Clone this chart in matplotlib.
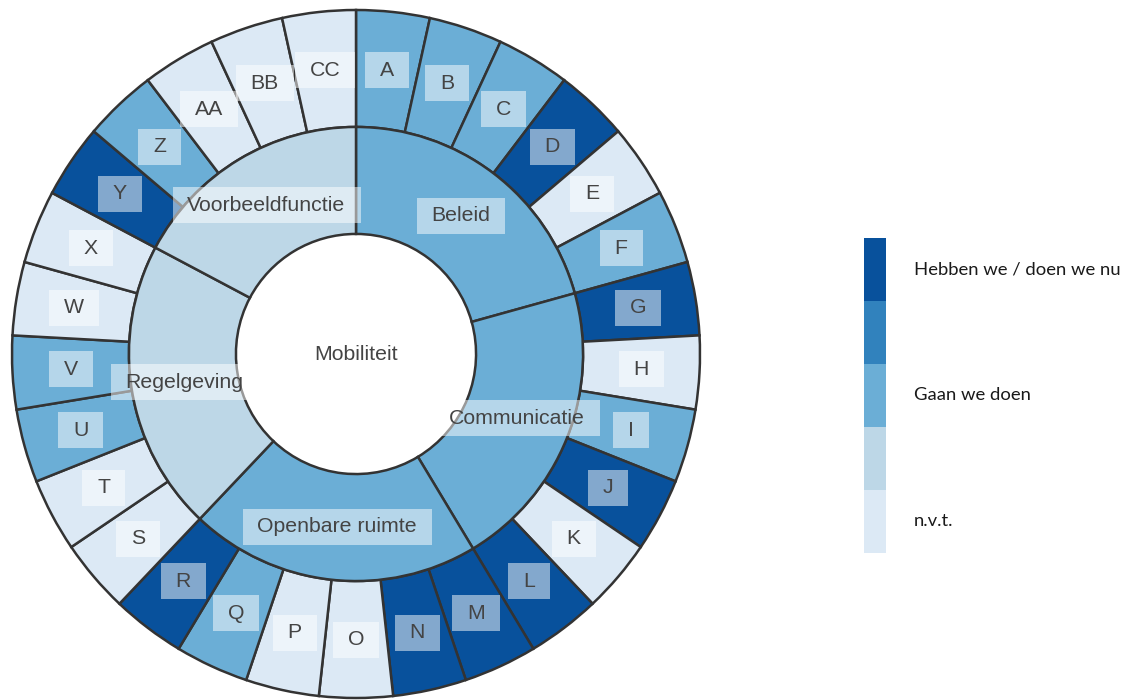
import numpy as np
import matplotlib
matplotlib.use("Agg")
import matplotlib.pyplot as plt
from matplotlib.path import Path

# ---------------- data ----------------
root_label = "Mobiliteit"
categories = ["Beleid", "Communicatie", "Openbare ruimte", "Regelgeving", "Voorbeeldfunctie"]
category_counts = [6, 6, 6, 6, 5]          # number of items per category
category_status = [3, 3, 3, 2, 2]          # colour level of each category
letters = ["A", "B", "C", "D", "E", "F",
           "G", "H", "I", "J", "K", "L",
           "M", "N", "O", "P", "Q", "R",
           "S", "T", "U", "V", "W", "X",
           "Y", "Z", "AA", "BB", "CC"]
letter_status = [3, 3, 3, 5, 1, 3,
                 5, 1, 3, 5, 1, 5,
                 5, 5, 1, 1, 3, 5,
                 1, 1, 3, 3, 1, 1,
                 5, 3, 1, 1, 1]
level_colors = ["#dce9f5", "#bdd7e7", "#6baed6", "#3182bd", "#08519c"]   # levels 1..5
legend_labels = {5: "Hebben we / doen we nu", 3: "Gaan we doen", 1: "n.v.t."}

# ---------------- style ----------------
EDGE = "#333333"
TXT = "#444444"
R_IN, R_MID, R_OUT = 0.349, 0.66, 1.0
FONT = "Liberation Sans"


def label_box(x0, y0, width, height, mutation_size):
    px = 0.70 * mutation_size
    py = 0.40 * mutation_size
    verts = [(x0 - px, y0 - py), (x0 + width + px, y0 - py),
             (x0 + width + px, y0 + height + py), (x0 - px, y0 + height + py),
             (x0 - px, y0 - py)]
    return Path(verts, closed=True)


W, H = 1133, 700
fig = plt.figure(figsize=(W / 100, H / 100), dpi=100)
fig.patch.set_facecolor("white")

cx, cy, R = 356, 354, 344
ax = fig.add_axes([(cx - R) / W, (H - cy - R) / H, 2 * R / W, 2 * R / H], projection="polar")
ax.set_theta_zero_location("N")
ax.set_theta_direction(-1)
ax.set_ylim(0, R_OUT)
ax.set_axis_off()

n = len(letters)
step = 2 * np.pi / n
theta = np.arange(n) * step

# outer ring
ax.bar(theta, R_OUT - R_MID, width=step, bottom=R_MID, align="edge",
       color=[level_colors[s - 1] for s in letter_status],
       edgecolor=EDGE, linewidth=1.8, clip_on=False)

# middle ring
counts = np.array(category_counts)
starts = np.concatenate([[0], np.cumsum(counts)[:-1]]) * step
widths = counts * step
ax.bar(starts, R_MID - R_IN, width=widths, bottom=R_IN, align="edge",
       color=[level_colors[s - 1] for s in category_status],
       edgecolor=EDGE, linewidth=1.8, clip_on=False)

box = dict(boxstyle=label_box, fc=(1, 1, 1, 0.5), ec="none")

for t, lab in zip(theta, letters):
    ax.text(t + step / 2, (R_MID + R_OUT) / 2, lab, ha="center", va="center",
            fontsize=15.3, color=TXT, family=FONT, bbox=box)

for s, w, lab in zip(starts, widths, categories):
    ax.text(s + w / 2, (R_IN + R_MID) / 2, lab, ha="center", va="center",
            fontsize=15.3, color=TXT, family=FONT, bbox=box)

ax.text(0, 0, root_label, ha="center", va="center", fontsize=15.3, color=TXT, family=FONT)

# ---------------- legend ----------------
lx0, lx1, ly0, ly1 = 864, 886, 238, 553
lax = fig.add_axes([lx0 / W, (H - ly1) / H, (lx1 - lx0) / W, (ly1 - ly0) / H])
levels = np.arange(1, len(level_colors) + 1)
lax.bar(np.zeros(len(levels)), np.ones(len(levels)), bottom=levels - 1, width=1,
        color=level_colors, edgecolor="none")
lax.set_xlim(-0.5, 0.5)
lax.set_ylim(0, len(levels))
lax.set_axis_off()
for lev, txt in legend_labels.items():
    lax.text(2.25, lev - 0.5, txt, transform=lax.get_yaxis_transform(),
             ha="left", va="center", fontsize=13.3, color="#1a1a1a", family="Lato")

fig.savefig("out.png", dpi=100)
